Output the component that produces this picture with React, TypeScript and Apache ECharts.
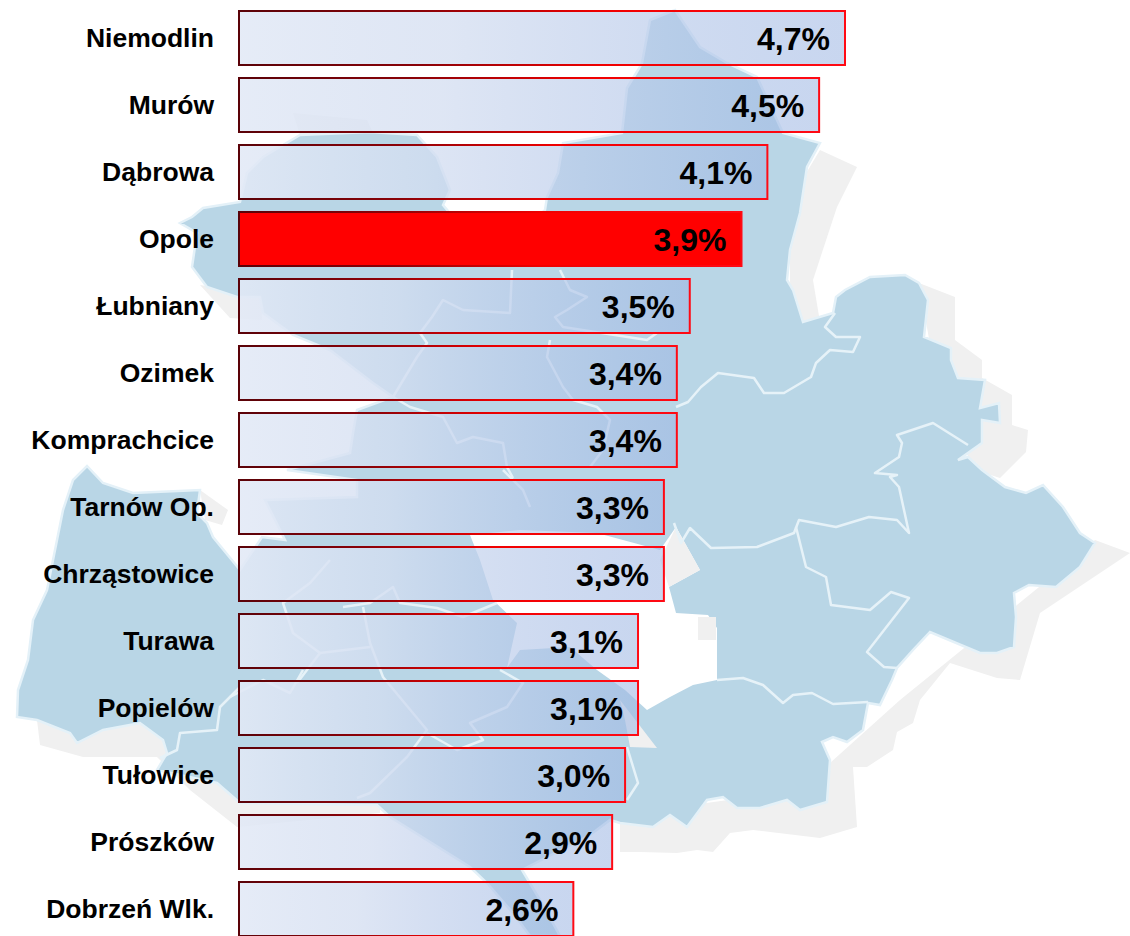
import React, { useEffect, useRef } from "react";
import * as echarts from "echarts";

const categories = ["Niemodlin", "Murów", "Dąbrowa", "Opole", "Łubniany", "Ozimek", "Komprachcice", "Tarnów Op.", "Chrząstowice", "Turawa", "Popielów", "Tułowice", "Prószków", "Dobrzeń Wlk."];
const values = [4.7, 4.5, 4.1, 3.9, 3.5, 3.4, 3.4, 3.3, 3.3, 3.1, 3.1, 3.0, 2.9, 2.6];
const highlighted = "Opole";

// Decorative background map (page pixels), traced by eye.
const mapOutline = [[675,10],[700,47],[727,63],[757,77],[783,133],[820,143],[807,167],[800,213],[790,250],[787,280],[793,290],[803,322],[833,313],[836,297],[845,290],[870,277],[905,275],[919,283],[928,300],[924,337],[951,348],[951,360],[958,378],[985,380],[980,408],[999,403],[1000,423],[982,420],[982,443],[958,460],[968,457],[982,470],[1005,487],[1026,493],[1043,485],[1063,507],[1080,533],[1095,543],[1080,567],[1056,587],[1029,585],[1014,593],[1016,617],[1014,647],[997,653],[980,653],[930,632],[913,650],[897,668],[892,680],[880,705],[868,703],[863,730],[847,742],[833,737],[822,742],[830,760],[827,802],[800,810],[787,800],[760,808],[737,808],[723,797],[707,800],[687,827],[670,815],[653,827],[620,823],[610,820],[590,835],[522,870],[540,900],[560,936],[530,936],[513,913],[487,883],[470,867],[390,817],[377,805],[240,803],[217,783],[157,770],[167,753],[163,740],[140,723],[103,730],[77,743],[70,733],[37,720],[17,717],[18,690],[28,660],[33,620],[47,590],[57,540],[63,510],[73,480],[87,466],[103,483],[133,493],[200,490],[197,513],[207,523],[213,537],[240,570],[262,537],[285,540],[265,500],[357,497],[357,480],[287,470],[350,453],[353,433],[357,410],[393,397],[373,383],[330,350],[293,335],[263,313],[260,297],[237,297],[207,287],[192,267],[197,233],[180,223],[192,217],[203,208],[240,202],[247,173],[263,157],[300,135],[370,132],[417,135],[437,157],[450,190],[443,205],[460,225],[530,225],[545,210],[547,197],[558,173],[563,143],[622,133],[627,88],[638,70],[642,63],[650,20]];
const mapHole = [[470,535],[480,560],[493,600],[517,623],[507,668],[520,650],[570,647],[597,670],[625,690],[647,710],[670,697],[693,685],[717,680],[717,628],[708,615],[676,613],[669,587],[700,570],[676,527],[660,550],[597,533],[520,530]];
const greyAreas = [
  [[620,815],[620,852],[640,852],[677,853],[697,850],[713,852],[730,833],[753,830],[820,838],[857,827],[853,767],[867,767],[893,750],[897,732],[913,723],[920,700],[950,663],[997,678],[1020,680],[1040,613],[1130,553],[1095,540],[1060,570],[900,700],[800,790]],
  [[919,283],[955,297],[955,340],[982,360],[982,378],[1012,395],[1012,425],[1028,430],[1026,452],[1000,478],[975,470],[940,400]],
  [[820,150],[857,167],[837,207],[813,280],[820,322],[790,322],[790,200]],
  [[37,720],[40,745],[83,757],[157,757],[190,790],[237,827],[380,813],[380,790],[160,720]],
  [[200,490],[228,510],[222,525],[205,520]],
  [[200,285],[230,318],[262,320],[262,295]],
  [[293,113],[367,120],[373,133],[300,135]],
];
const greyOnHole = [
  [[676,527],[700,570],[669,587],[660,560]],
  [[698,617],[716,617],[716,640],[698,640]],
  [[620,700],[657,748],[630,747],[625,720]],
];
const mapLines = [
  [[835,313],[825,327],[836,337],[860,337],[853,352],[830,350],[816,363],[811,377],[784,393],[764,393],[754,378],[718,373],[701,387],[688,402],[676,407]],
  [[968,445],[933,423],[897,435],[902,443],[899,457],[875,473],[897,475],[890,477],[899,487],[909,533],[897,520],[869,517],[836,527],[799,520],[794,533],[757,547],[711,548],[690,528],[681,543],[674,523]],
  [[796,527],[806,567],[826,577],[831,605],[870,610],[891,592],[909,598],[867,652],[884,667],[897,668]],
  [[717,680],[743,678],[763,685],[783,703],[793,695],[812,693],[833,704],[868,702]],
  [[627,747],[638,783],[627,800]],
  [[512,270],[510,313],[463,310],[443,300],[432,317],[420,333],[427,343],[417,357],[393,397],[410,407],[443,417],[457,443],[473,437],[503,443],[507,467],[513,478]],
  [[560,270],[570,290],[587,297],[567,310],[555,317],[563,327],[647,340],[657,333]],
  [[550,340],[547,357],[563,387],[573,400],[597,407],[610,420],[603,450],[590,467]],
  [[503,470],[523,490],[530,507]],
  [[330,560],[310,583],[283,603],[293,633],[320,653],[297,683]],
  [[343,607],[370,603],[393,587],[400,603],[437,608],[463,617],[497,603]],
  [[363,607],[370,643],[383,677],[427,730],[407,757],[370,793],[357,798]],
  [[320,653],[370,647]],
  [[427,733],[457,750],[483,740],[470,723],[507,707],[523,683],[500,670]],
  [[230,697],[263,680],[290,693],[303,670]],
  [[240,687],[220,707],[217,730],[180,733],[177,750],[160,758]],
];

const FONT = "'Liberation Sans', Arial, sans-serif";

function poly(points: number[][], fill: string, stroke?: string, lineWidth = 0) {
  return { type: "polygon", z: 0, silent: true, shape: { points }, style: { fill, stroke, lineWidth } };
}

export default function App() {
  const ref = useRef<HTMLDivElement>(null);
  useEffect(() => {
    document.body.style.margin = "0";
    document.body.style.background = "#fff";
    const chart = echarts.init(ref.current!, null, { renderer: "svg" });
    const border = () =>
      new echarts.graphic.LinearGradient(0, 0, 1, 0, [
        { offset: 0, color: "#5a0208" },
        { offset: 0.3, color: "#8a0208" },
        { offset: 0.6, color: "#f00000" },
        { offset: 1, color: "#ff0a14" },
      ]);
    const fill = () =>
      new echarts.graphic.LinearGradient(0, 0, 1, 0, [
        { offset: 0, color: "rgba(226,233,246,0.88)" },
        { offset: 0.35, color: "rgba(212,222,241,0.76)" },
        { offset: 1, color: "rgba(157,182,227,0.56)" },
      ]);
    chart.setOption({
      animation: false,
      backgroundColor: "#ffffff",
      graphic: {
        elements: [
          ...greyAreas.map((p) => poly(p, "#f0f0f0")),
          poly(mapOutline, "#b9d6e6", "#e4f1f8", 2.5),
          poly(mapHole, "#ffffff"),
          ...greyOnHole.map((p) => poly(p, "#f0f0f0")),
          ...mapLines.map((points) => ({
            type: "polyline",
            z: 0,
            silent: true,
            shape: { points },
            style: { fill: "none", stroke: "#e6f2f8", lineWidth: 2.5, lineJoin: "round" },
          })),
        ],
      },
      grid: { left: 238, top: 4.5, width: 608, height: 938, containLabel: false },
      xAxis: { type: "value", min: 0, max: 4.7, show: false },
      yAxis: {
        type: "category",
        inverse: true,
        data: categories,
        axisLine: { show: false },
        axisTick: { show: false },
        splitLine: { show: false },
        axisLabel: { margin: 24, color: "#000", fontFamily: FONT, fontWeight: "bold", fontSize: 26.5, align: "right" },
      },
      series: [
        {
          type: "bar",
          barWidth: 56,
          clip: false,
          data: values.map((value, i) => ({
            value,
            itemStyle: {
              color: categories[i] === highlighted ? "#ff0000" : fill(),
              borderColor: border(),
              borderWidth: 2,
            },
          })),
          label: {
            show: true,
            position: "insideRight",
            distance: 16,
            color: "#000",
            fontFamily: FONT,
            fontWeight: "bold",
            fontSize: 32,
            offset: [0, 1],
            formatter: (p: any) => p.value.toFixed(1).replace(".", ",") + "%",
          },
        },
      ],
    });
    return () => chart.dispose();
  }, []);
  return (
    <div style={{ width: 1130, height: 936, overflow: "hidden" }}>
      <div ref={ref} style={{ width: 1130, height: 960 }} />
    </div>
  );
}
